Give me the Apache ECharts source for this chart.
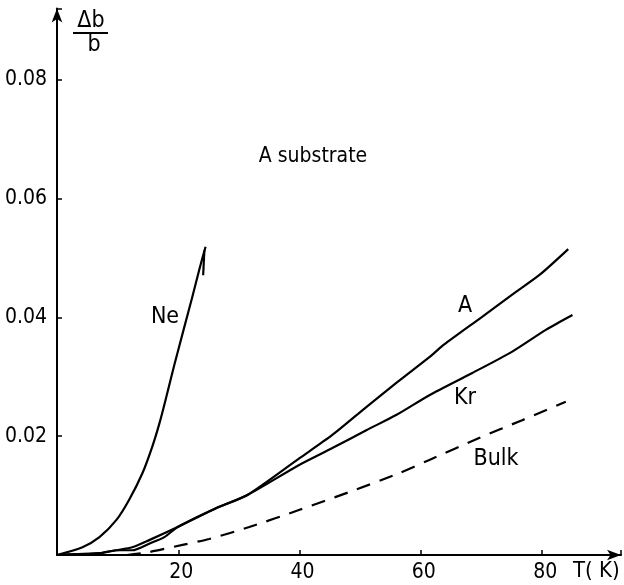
<!DOCTYPE html>
<html>
<head>
<meta charset="utf-8">
<script src="https://cdn.jsdelivr.net/npm/echarts@6/dist/echarts.min.js"></script>
<style>html,body{margin:0;padding:0;background:#fff;}#c{width:624px;height:585px;}</style>
</head>
<body>
<div id="c"></div>
<script>
// T (K), Δb/b
const neData = [[0,0],[4.2,0.0013],[7.0,0.0030],[9.8,0.0059],[11.9,0.0093],[14.1,0.0138],[15.7,0.0182],[16.9,0.0222],[18.0,0.0265],[19.3,0.0318],[21.0,0.0384],[22.3,0.0434],[23.5,0.0482],[24.5,0.0519]];
const neTick = [[24.3,0.0513],[24.1,0.0471]];
const aData = [[0,0],[7,0.0003],[9.8,0.0008],[12.4,0.0008],[15.2,0.0019],[17.7,0.0030],[19.9,0.0047],[26.3,0.0079],[31.4,0.0101],[40.0,0.0163],[45.4,0.0202],[51.0,0.0249],[56.0,0.0290],[61.4,0.0333],[63.8,0.0354],[70.1,0.0401],[75.0,0.0438],[79.5,0.0471],[84.3,0.0515]];
const krData = [[0,0],[7,0.0003],[9.8,0.0008],[12.4,0.0013],[15.2,0.0025],[19.9,0.0047],[26.3,0.0079],[31.4,0.0101],[40.0,0.0152],[45.4,0.0180],[51.0,0.0210],[56.0,0.0236],[61.4,0.0269],[68.4,0.0306],[75.0,0.0342],[80.6,0.0379],[85.0,0.0404]];
const bulkData = [[11.5,0],[15.2,0.0005],[20.7,0.0017],[25.1,0.0027],[31.7,0.0047],[40.0,0.0076],[48.2,0.0106],[56.0,0.0136],[61.4,0.0160],[69.6,0.0197],[76.7,0.0227],[83.9,0.0258]];
const xTicks = [20,40,60,80];
const yTicks = [0.02,0.04,0.06,0.08];

const FONT = '"DejaVu Sans Condensed", "DejaVu Sans"';
const chart = echarts.init(document.getElementById('c'));
const lineStyle = {color:'#000', width:2.2};
function mk(data, dashed){
  return {type:'line', data:data, showSymbol:false, smooth:0.25, silent:true,
    lineStyle: dashed ? {color:'#000', width:2.2, type:[14,10]} : lineStyle};
}
function txt(s, x, y, size, align){
  return {type:'text', x:x, y:y, style:{text:s, font:size+'px '+FONT, fill:'#000', align:align||'center', verticalAlign:'middle'}};
}
chart.setOption({
  animation:false,
  backgroundColor:'#fff',
  grid:{left:57, top:8.5, width:93*6.07, height:0.092*5940, containLabel:false},
  xAxis:{type:'value', min:0, max:93, interval:20,
    axisLine:{show:true, onZero:false, symbol:['none','arrow'], symbolSize:[8,14], lineStyle:{color:'#000', width:2}},
    axisTick:{show:true, inside:true, length:5, lineStyle:{color:'#000', width:1.5}},
    axisLabel:{margin:7, color:'#000', fontFamily:FONT, fontSize:21, padding:[0,0,0,6],
      formatter:v=> xTicks.indexOf(v)>=0 ? String(v) : ''},
    splitLine:{show:false}},
  yAxis:{type:'value', min:0, max:0.092, interval:0.02,
    axisLine:{show:true, onZero:false, symbol:['none','arrow'], symbolSize:[8,14], lineStyle:{color:'#000', width:2}},
    axisTick:{show:true, inside:true, length:5, lineStyle:{color:'#000', width:1.5}},
    axisLabel:{margin:10, color:'#000', fontFamily:FONT, fontSize:21,
      formatter:v=>{const f=yTicks.find(t=>Math.abs(t-v)<1e-9); return f!==undefined ? f.toFixed(2) : '';}},
    splitLine:{show:false}},
  series:[mk(neData), {type:'line', data:neTick, showSymbol:false, silent:true, lineStyle:lineStyle},
    mk(aData), mk(krData), mk(bulkData, true)],
  graphic:[
    txt('Δb', 91, 21, 23),
    {type:'line', shape:{x1:73, y1:33, x2:108, y2:33}, style:{stroke:'#000', lineWidth:1.8}},
    txt('b', 94, 45, 23),
    txt('A substrate', 313, 157, 21),
    txt('Ne', 165, 317, 23),
    txt('A', 465, 306, 23),
    txt('Kr', 465, 398, 23),
    txt('Bulk', 496, 459, 23),
    txt('T( K)', 573, 571, 22, 'left')
  ]
});
</script>
</body>
</html>
